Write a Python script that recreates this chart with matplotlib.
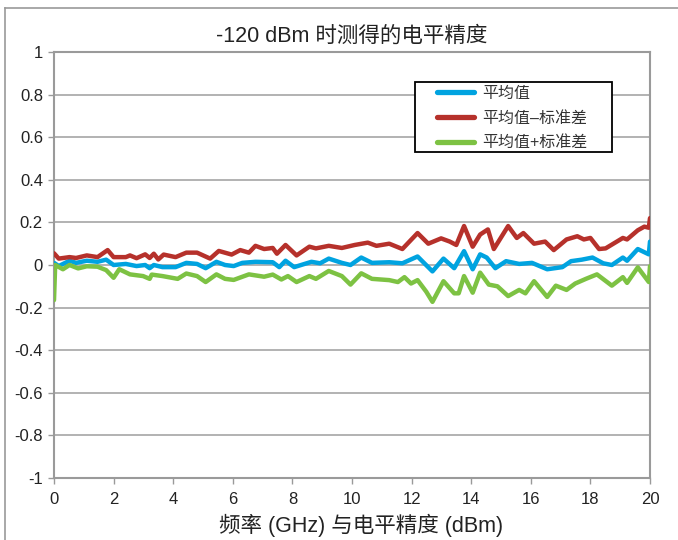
import matplotlib
matplotlib.use("Agg")
import matplotlib.pyplot as plt
from matplotlib.lines import Line2D
from matplotlib.patches import Rectangle

plt.rcParams['font.family'] = ['Liberation Sans', 'Noto Sans CJK SC', 'DejaVu Sans']

# ---- data ----
mean_freq = [0, 0.16, 0.52, 0.74, 1.10, 1.46, 1.75, 2.00, 2.41, 2.77, 3.06, 3.21, 3.35, 3.64,
             4.08, 4.44, 4.80, 5.09, 5.45, 5.74, 6.03, 6.32, 6.76, 7.34, 7.56, 7.77, 8.06,
             8.64, 8.93, 9.22, 9.66, 9.95, 10.31, 10.67, 11.25, 11.69, 12.20, 12.70, 13.07,
             13.43, 13.76, 14.05, 14.30, 14.52, 14.81, 15.17, 15.61, 16.04, 16.55, 17.06,
             17.35, 17.71, 18.07, 18.43, 18.72, 19.09, 19.23, 19.59, 19.96, 20.0]
mean_val = [0.01, -0.005, 0.02, 0.01, 0.02, 0.015, 0.025, 0.0, 0.005, -0.005, 0.0, -0.015, 0.0,
            -0.01, -0.01, 0.01, 0.005, -0.015, 0.015, 0.0, -0.005, 0.01, 0.015, 0.013, -0.01,
            0.02, -0.01, 0.015, 0.008, 0.03, 0.01, 0.0, 0.035, 0.01, 0.013, 0.008, 0.04, -0.03,
            0.03, -0.015, 0.065, -0.02, 0.05, 0.035, -0.015, 0.018, 0.005, 0.01, -0.02, -0.01,
            0.018, 0.025, 0.035, 0.008, 0.0, 0.035, 0.02, 0.075, 0.05, 0.11]

low_freq = [0, 0.16, 0.52, 0.74, 1.10, 1.46, 1.80, 2.00, 2.41, 2.55, 2.77, 3.06, 3.21, 3.35,
            3.50, 3.68, 4.08, 4.44, 4.80, 5.24, 5.53, 5.96, 6.25, 6.54, 6.76, 7.05, 7.34, 7.48,
            7.77, 8.14, 8.57, 8.79, 9.22, 9.66, 10.09, 10.53, 10.82, 11.25, 11.69, 12.20,
            12.56, 12.99, 13.28, 13.50, 13.76, 14.05, 14.30, 14.56, 14.76, 15.24, 15.53,
            15.75, 16.11, 16.48, 16.77, 17.20, 17.56, 17.78, 18.00, 18.29, 18.51, 19.09,
            19.23, 19.59, 19.81, 19.96, 20.0]
low_val = [0.055, 0.03, 0.037, 0.033, 0.045, 0.037, 0.07, 0.037, 0.037, 0.045, 0.032, 0.05,
           0.033, 0.053, 0.026, 0.049, 0.037, 0.058, 0.058, 0.03, 0.066, 0.049, 0.07, 0.058,
           0.09, 0.075, 0.08, 0.053, 0.094, 0.045, 0.086, 0.078, 0.09, 0.08, 0.094, 0.105,
           0.09, 0.1, 0.075, 0.15, 0.1, 0.125, 0.11, 0.094, 0.183, 0.086, 0.143, 0.167, 0.075,
           0.183, 0.127, 0.15, 0.1, 0.11, 0.07, 0.12, 0.135, 0.12, 0.127, 0.075, 0.078,
           0.127, 0.12, 0.163, 0.18, 0.175, 0.22]

high_freq = [0, 0.04, 0.30, 0.52, 0.81, 1.10, 1.46, 1.75, 2.00, 2.19, 2.55, 2.99, 3.21, 3.28,
             3.64, 4.15, 4.44, 4.80, 5.09, 5.45, 5.74, 6.03, 6.54, 7.05, 7.34, 7.63, 7.85,
             8.14, 8.57, 8.79, 9.22, 9.66, 9.95, 10.31, 10.67, 11.25, 11.54, 11.76, 11.98,
             12.20, 12.49, 12.70, 13.07, 13.43, 13.58, 13.76, 14.05, 14.30, 14.59, 14.88,
             15.24, 15.61, 15.82, 16.11, 16.55, 16.84, 17.20, 17.49, 17.85, 18.22, 18.72,
             19.09, 19.23, 19.59, 19.96, 20.0]
high_val = [-0.165, 0.0, -0.02, 0.0, -0.016, -0.006, -0.008, -0.024, -0.06, -0.02, -0.044,
            -0.052, -0.065, -0.045, -0.052, -0.065, -0.04, -0.052, -0.08, -0.044, -0.065,
            -0.07, -0.044, -0.055, -0.045, -0.068, -0.052, -0.08, -0.052, -0.065, -0.028,
            -0.052, -0.092, -0.039, -0.065, -0.071, -0.08, -0.057, -0.087, -0.071, -0.125,
            -0.173, -0.076, -0.133, -0.133, -0.052, -0.13, -0.036, -0.092, -0.1, -0.146,
            -0.117, -0.133, -0.076, -0.15, -0.097, -0.117, -0.087, -0.065, -0.044, -0.097,
            -0.057, -0.084, -0.011, -0.08, -0.006]

labels = ['平均值', '平均值–标准差', '平均值+标准差']
colors = ['#00a3e0', '#b6312b', '#7dc243']
title = '-120 dBm 时测得的电平精度'
xlabel = '频率 (GHz) 与电平精度 (dBm)'
xticks = list(range(0, 21, 2))
yticks = [-1, -0.8, -0.6, -0.4, -0.2, 0, 0.2, 0.4, 0.6, 0.8, 1]
ytick_labels = ['-1', '-0.8', '-0.6', '-0.4', '-0.2', '0', '0.2', '0.4', '0.6', '0.8', '1']

W, H = 678, 540

# ---- figure ----
fig = plt.figure(figsize=(W/100, H/100), dpi=100)
ax = fig.add_axes([54/W, 1-478/H, (650-54)/W, (478-52)/H])

lw = 3.2
for fx, fy, c in [(mean_freq, mean_val, colors[0]),
                  (low_freq, low_val, colors[1]),
                  (high_freq, high_val, colors[2])]:
    ax.plot(fx, fy, color=c, lw=lw, solid_joinstyle='round', solid_capstyle='round', zorder=3)

ax.set_xlim(0, 20)
ax.set_ylim(-1, 1)
ax.set_xticks(xticks)
ax.set_xticklabels([str(t) for t in xticks])
ax.set_yticks(yticks)
ax.set_yticklabels(ytick_labels)
ax.yaxis.grid(True, color='#a6a6a6', lw=1.2)
ax.set_axisbelow(True)
for s in ax.spines.values():
    s.set_color('#9a9a9a')
    s.set_linewidth(1.5)
ax.tick_params(axis='both', colors='#9a9a9a', labelcolor='#222222', labelsize=12,
               length=4, width=1)
ax.tick_params(axis='x', pad=6)
ax.tick_params(axis='y', pad=4)

ax.set_title(title, fontsize=15.5, color='#222222', pad=7)
ax.set_xlabel(xlabel, fontsize=15.5, color='#222222', labelpad=3)
ax.xaxis.set_label_coords((361-54)/596, -0.085)

# legend frame and entries
fig.add_artist(Rectangle((415/W, 1-152/H), (612-415)/W, (152-82)/H, transform=fig.transFigure,
                         facecolor='white', edgecolor='black', lw=1.3, zorder=4))
handles = [Line2D([], [], color=c, lw=3.8, solid_capstyle='round') for c in colors]
leg = fig.legend(handles, labels, loc='upper left', bbox_to_anchor=(437/W, 1-86/H),
                 bbox_transform=fig.transFigure, frameon=False,
                 fontsize=11.5, handlelength=2.3, borderpad=0, labelspacing=0.6,
                 handletextpad=0.55, borderaxespad=0)
leg.set_zorder(5)
for t in leg.get_texts():
    t.set_color('#333333')

# outer frame lines (top and left)
fig.add_artist(Line2D([5/W, 1], [1-8/H, 1-8/H], color='#9a9a9a', lw=1.2,
                      transform=fig.transFigure))
fig.add_artist(Line2D([5/W, 5/W], [0, 1-8/H], color='#9a9a9a', lw=1.2,
                      transform=fig.transFigure))

fig.savefig('out.png', dpi=100)
